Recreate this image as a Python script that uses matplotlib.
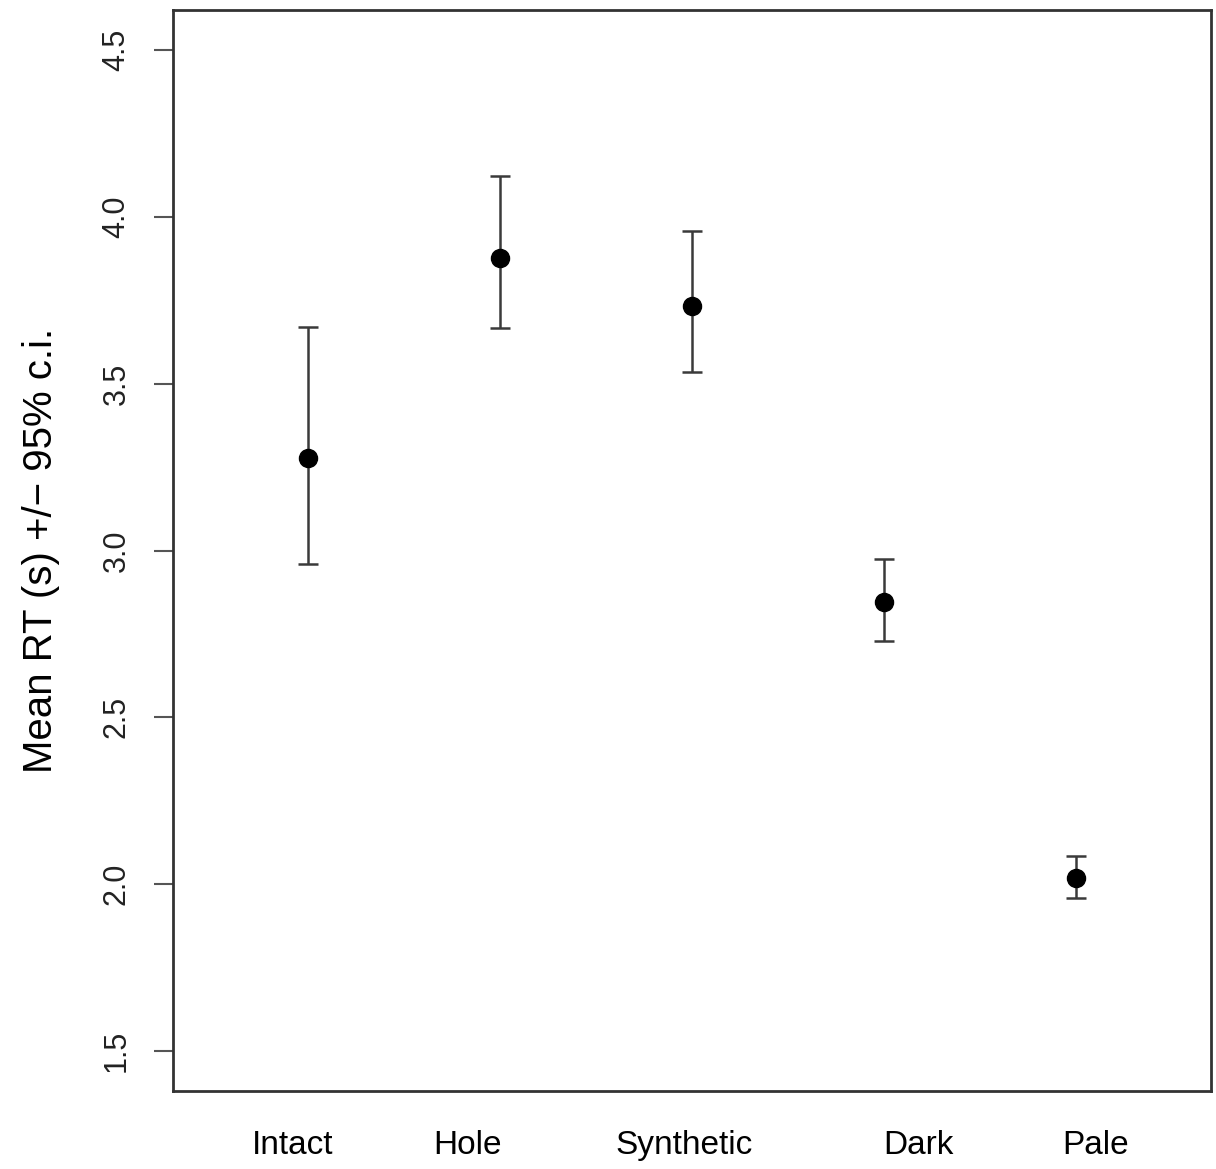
import matplotlib.pyplot as plt

# group means and 95% c.i. limits
groups = ['Intact', 'Hole', 'Synthetic', 'Dark', 'Pale']
means = [3.276, 3.876, 3.732, 2.847, 2.019]
upper = [3.669, 4.122, 3.957, 2.976, 2.085]
lower = [2.961, 3.666, 3.534, 2.730, 1.959]

# group labels sit a bit off the points, as in the original figure
label_pos = [0.92, 1.83, 2.96, 4.18, 5.10]

plt.rcParams['font.family'] = ['Liberation Sans', 'DejaVu Sans']

x = list(range(1, len(groups) + 1))
err_lo = [m - l for m, l in zip(means, lower)]
err_hi = [u - m for m, u in zip(means, upper)]

fig = plt.figure(figsize=(12.16, 11.69), dpi=100)
ax = fig.add_axes([0.1423, 0.0667, 0.8536, 0.9247])

ax.errorbar(x, means, yerr=[err_lo, err_hi], fmt='o', color='black',
            ms=13, ecolor='#3a3a3a', elinewidth=1.8, capsize=7.2,
            capthick=1.8)

ax.set_xlim(0.3, 5.7)
ax.set_ylim(1.38, 4.62)

ax.set_yticks([1.5, 2.0, 2.5, 3.0, 3.5, 4.0, 4.5])
ax.set_yticklabels(['1.5', '2.0', '2.5', '3.0', '3.5', '4.0', '4.5'],
                   rotation=90, va='center', fontsize=22, color='#222222')
ax.tick_params(axis='y', length=14, width=1.5, color='#555555', pad=16)

ax.set_xticks(label_pos)
ax.set_xticklabels(groups, fontsize=24)
ax.tick_params(axis='x', length=0, pad=28)

for s in ax.spines.values():
    s.set_linewidth(2)
    s.set_color('#333333')

ax.set_ylabel('Mean RT (s) +/\u2212 95% c.i.', fontsize=29, labelpad=30)

fig.savefig('out.png', dpi=100)
